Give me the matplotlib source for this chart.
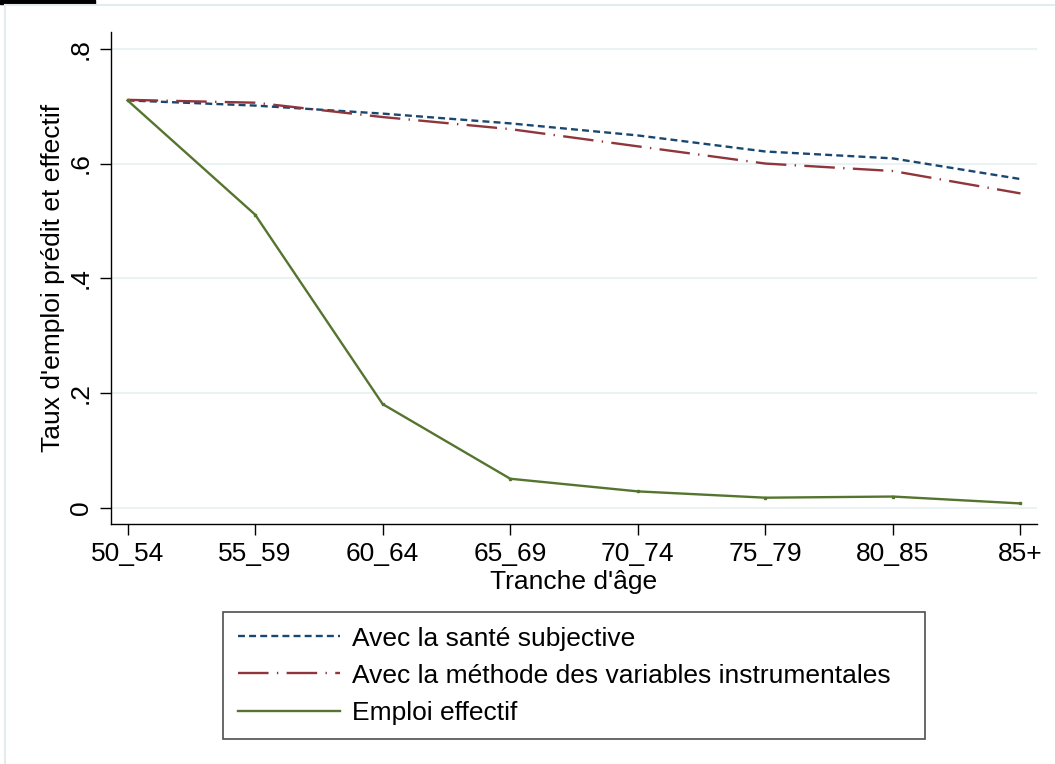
import matplotlib
matplotlib.use("Agg")
import matplotlib.pyplot as plt
from matplotlib.lines import Line2D
from matplotlib.patches import Rectangle

plt.rcParams['font.family'] = ['Liberation Sans', 'DejaVu Sans']
plt.rcParams['lines.scale_dashes'] = False

# donnees
tranches = ["50_54", "55_59", "60_64", "65_69", "70_74", "75_79", "80_85", "85+"]
sante_subjective = [0.710, 0.701, 0.687, 0.670, 0.649, 0.621, 0.609, 0.573]
variables_instr = [0.711, 0.706, 0.681, 0.660, 0.630, 0.600, 0.587, 0.548]
emploi_effectif = [0.710, 0.511, 0.181, 0.051, 0.029, 0.018, 0.020, 0.008]

yticks = [0, 0.2, 0.4, 0.6, 0.8]
ylabels = ["0", ".2", ".4", ".6", ".8"]

navy = "#1a476f"
maroon = "#90353b"
forest = "#55752f"
grid_col = "#eaf2f3"

fig = plt.figure(figsize=(10.55, 7.64), dpi=100)
ax = fig.add_axes([0.1052, 0.314, 0.8778, 0.644])

x = list(range(len(tranches)))
ax.plot(x, sante_subjective, color=navy, lw=1.7, dashes=(5, 3))
ax.plot(x, variables_instr, color=maroon, lw=1.7, dashes=(22, 6, 1, 6))
ax.plot(x, emploi_effectif, color=forest, lw=1.7, marker='s', ms=2)

ax.set_xlim(-0.13, 7.13)
ax.set_ylim(-0.028, 0.829)
ax.set_xticks(x)
ax.set_xticklabels(tranches, fontsize=19)
ax.set_yticks(yticks)
ax.set_yticklabels(ylabels, fontsize=19, rotation=90, va='center')
ax.tick_params(axis='both', length=8, width=1, color='black')
ax.tick_params(axis='y', pad=5)
ax.tick_params(axis='x', pad=5)
ax.grid(axis='y', color=grid_col, lw=1.5)
ax.set_axisbelow(True)

for s in ['top', 'right']:
    ax.spines[s].set_visible(False)
for s in ['left', 'bottom']:
    ax.spines[s].set_linewidth(1)

ax.set_xlabel("Tranche d'âge", fontsize=19, labelpad=3)
ax.set_ylabel("Taux d'emploi prédit et effectif", fontsize=19, labelpad=3)

handles = [
    Line2D([], [], color=navy, lw=1.7, dashes=(5, 3)),
    Line2D([], [], color=maroon, lw=1.7, dashes=(22, 6, 1, 6)),
    Line2D([], [], color=forest, lw=1.7),
]
names = ["Avec la santé subjective",
         "Avec la méthode des variables instrumentales",
         "Emploi effectif"]
leg = fig.legend(handles, names, loc='upper left', mode='expand',
                 bbox_to_anchor=(223 / 1055, 1 - 735 / 764, 702 / 1055, 123 / 764),
                 fontsize=19, frameon=True, fancybox=False,
                 edgecolor='#222222', handlelength=3.9, handletextpad=0.45,
                 labelspacing=0.5, borderpad=0.55, borderaxespad=0)
leg.get_frame().set_linewidth(1.2)

# cadre du graphique et bout du titre coupe
fig.add_artist(Line2D([5 / 1055, 1], [1 - 5 / 764, 1 - 5 / 764],
                      color='#e3ebee', lw=1.5, transform=fig.transFigure))
fig.add_artist(Line2D([5 / 1055, 5 / 1055], [0, 1 - 5 / 764],
                      color='#e3ebee', lw=1.5, transform=fig.transFigure))
fig.add_artist(Rectangle((0, 1 - 4 / 764), 95 / 1055, 4 / 764,
                         color='black', transform=fig.transFigure))

fig.savefig("out.png", dpi=100)
